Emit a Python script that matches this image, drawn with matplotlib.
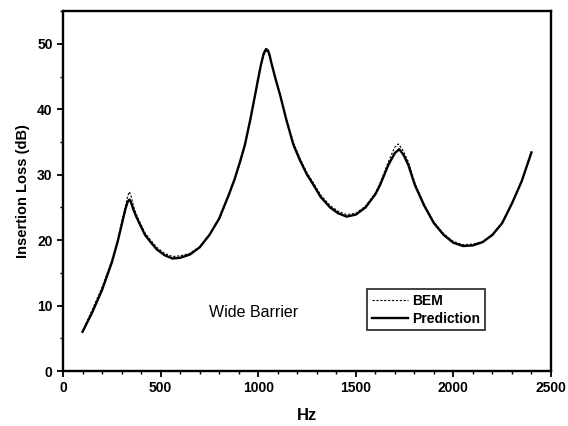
import matplotlib
matplotlib.use("Agg")
import matplotlib.pyplot as plt
from matplotlib.ticker import MultipleLocator

plt.rcParams['font.family'] = ['Liberation Sans', 'DejaVu Sans']

freq_pred = [100, 150, 200, 250, 280, 300, 320, 332, 340, 348, 360, 375, 394, 420, 446,
             480, 520, 560, 600, 650, 700, 750, 800, 850, 880, 910, 932, 960, 984, 1000,
             1014, 1028, 1040, 1050, 1058, 1069, 1090, 1112, 1145, 1180, 1214, 1250,
             1282, 1320, 1368, 1410, 1453, 1500, 1550, 1600, 1624, 1667, 1700, 1723,
             1745, 1769, 1803, 1850, 1900, 1950, 2000, 2050, 2100, 2150, 2200, 2250,
             2300, 2350, 2400]
il_pred = [6.0, 9.0, 12.4, 16.6, 19.8, 22.3, 24.8, 25.9, 26.2, 25.8, 24.7, 23.6, 22.4,
           20.8, 19.8, 18.6, 17.7, 17.2, 17.3, 17.8, 18.9, 20.8, 23.3, 27.0, 29.4, 32.3,
           34.6, 38.5, 42.2, 44.7, 46.8, 48.5, 49.2, 49.0, 48.3, 46.9, 44.5, 42.2, 38.3,
           34.6, 32.2, 30.0, 28.5, 26.6, 25.0, 24.1, 23.6, 23.9, 25.0, 27.0, 28.4, 31.5,
           33.3, 33.9, 33.0, 31.5, 28.4, 25.3, 22.6, 20.8, 19.6, 19.1, 19.2, 19.7, 20.8,
           22.6, 25.6, 29.0, 33.4]

freq_bem = [100, 150, 200, 250, 280, 300, 320, 332, 340, 348, 360, 375, 394, 420, 446,
            480, 520, 560, 600, 650, 700, 750, 800, 850, 880, 910, 932, 960, 984, 1000,
            1014, 1028, 1040, 1050, 1058, 1069, 1090, 1112, 1145, 1180, 1214, 1250,
            1282, 1320, 1368, 1410, 1453, 1500, 1550, 1600, 1624, 1667, 1700, 1718,
            1740, 1769, 1803, 1850, 1900, 1950, 2000, 2050, 2100, 2150, 2200, 2250,
            2300, 2350, 2400]
il_bem = [6.1, 9.4, 12.8, 16.9, 20.1, 22.7, 25.3, 26.8, 27.4, 26.8, 25.3, 24.0, 22.7,
          21.1, 20.1, 18.9, 18.0, 17.5, 17.6, 18.0, 19.0, 20.8, 23.2, 26.8, 29.2, 32.1,
          34.4, 38.3, 42.0, 44.5, 46.6, 48.2, 48.9, 48.7, 48.1, 46.8, 44.5, 42.3, 38.5,
          34.9, 32.5, 30.3, 28.8, 26.9, 25.3, 24.4, 23.9, 24.1, 25.2, 27.2, 28.7, 32.0,
          34.2, 34.7, 33.8, 32.0, 28.7, 25.5, 22.8, 21.0, 19.8, 19.3, 19.4, 19.8, 20.9,
          22.7, 25.6, 29.0, 33.5]

fig = plt.figure(figsize=(5.68, 4.26), dpi=100)
ax = fig.add_axes([0.111, 0.129, 0.859, 0.845])

ax.plot(freq_bem, il_bem, color='black', linewidth=0.8, linestyle=(0, (2.0, 1.5)), label='BEM')
ax.plot(freq_pred, il_pred, color='black', linewidth=1.7, label='Prediction')

ax.set_xlim(0, 2500)
ax.set_ylim(0, 55)
ax.xaxis.set_major_locator(MultipleLocator(500))
ax.xaxis.set_minor_locator(MultipleLocator(100))
ax.yaxis.set_major_locator(MultipleLocator(10))
ax.yaxis.set_minor_locator(MultipleLocator(5))
ax.tick_params(which='major', direction='out', length=4, width=1.3, labelsize=10)
ax.tick_params(which='minor', direction='out', length=2.5, width=1.0)
for lab in ax.get_xticklabels() + ax.get_yticklabels():
    lab.set_fontweight('bold')
for s in ax.spines.values():
    s.set_linewidth(1.7)

ax.set_xlabel('Hz', fontsize=12, fontweight='bold', labelpad=9)
ax.set_ylabel('Insertion Loss (dB)', fontsize=10.5, fontweight='bold', labelpad=5)

ax.text(750, 9.0, 'Wide Barrier', fontsize=11.5, va='center', ha='left')

leg = ax.legend(loc='lower left', bbox_to_anchor=(0.623, 0.113), frameon=True,
                fancybox=False, edgecolor='black', fontsize=10, handlelength=2.6,
                handletextpad=0.3, borderpad=0.35, labelspacing=0.25, borderaxespad=0)
leg.get_frame().set_linewidth(1.3)
for t in leg.get_texts():
    t.set_fontweight('bold')

fig.savefig('out.png', dpi=100)
